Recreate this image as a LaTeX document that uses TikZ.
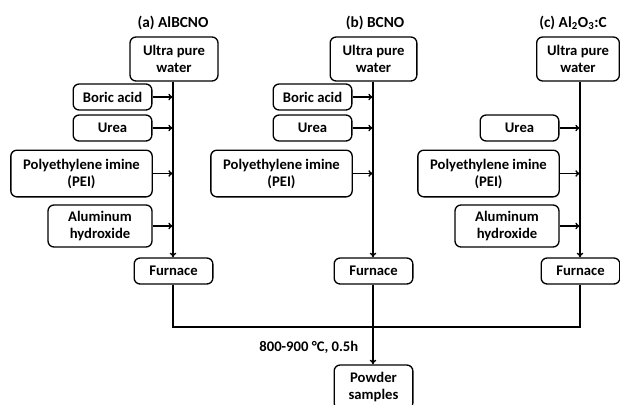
\documentclass[tikz,border=0pt]{standalone}
\usepackage{fontspec}
\setmainfont{Carlito}
\usetikzlibrary{arrows.meta}
\tikzset{
  box/.style={draw, line width=1pt, rounded corners=4.5pt, align=center, inner sep=0pt,
    font=\fontsize{11}{12.75}\selectfont\bfseries},
  title/.style={font=\fontsize{11.5}{13}\selectfont\bfseries},
  flow/.style={line width=1pt, -{To[length=3.5pt,width=5pt]}}
}
\begin{document}
\begin{tikzpicture}[x=0.75pt,y=-0.75pt]
\useasboundingbox (0,0) rectangle (620,404);
% column (a)
\node[title] (titleA) at (173,23) {(a) AlBCNO};
\node[box, minimum width=66pt, minimum height=33pt] (waterA) at (174,59) {Ultra pure\\water};
\node[box, minimum width=59pt, minimum height=19.5pt] (boricA) at (112.5,97) {Boric acid};
\node[box, minimum width=59pt, minimum height=19.5pt] (ureaA) at (112.5,128) {Urea};
\node[box, minimum width=106pt, minimum height=35pt] (peiA) at (81.5,173.5) {Polyethylene imine\\(PEI)};
\node[box, minimum width=78pt, minimum height=31.5pt] (alA) at (100,226) {Aluminum\\hydroxide};
\node[box, minimum width=59pt, minimum height=19.5pt] (furnaceA) at (173.5,271) {Furnace};
% column (b)
\node[title] (titleB) at (375,23) {(b) BCNO};
\node[box, minimum width=65pt, minimum height=33pt] (waterB) at (373.5,59) {Ultra pure\\water};
\node[box, minimum width=59pt, minimum height=19.5pt] (boricB) at (312.5,97) {Boric acid};
\node[box, minimum width=59pt, minimum height=19.5pt] (ureaB) at (312.5,128) {Urea};
\node[box, minimum width=106pt, minimum height=35pt] (peiB) at (281.5,173.5) {Polyethylene imine\\(PEI)};
\node[box, minimum width=59pt, minimum height=19.5pt] (furnaceB) at (373.5,271) {Furnace};
% column (c)
\node[title] (titleC) at (573,23) {(c) Al\textsubscript{2}O\textsubscript{3}:C};
\node[box, minimum width=62pt, minimum height=33pt] (waterC) at (578,59) {Ultra pure\\water};
\node[box, minimum width=59pt, minimum height=19.5pt] (ureaC) at (519.5,128) {Urea};
\node[box, minimum width=106pt, minimum height=35pt] (peiC) at (488.5,173.5) {Polyethylene imine\\(PEI)};
\node[box, minimum width=78pt, minimum height=31.5pt] (alC) at (507,226) {Aluminum\\hydroxide};
\node[box, minimum width=59pt, minimum height=19.5pt] (furnaceC) at (580.5,271) {Furnace};
% product
\node[box, minimum width=59pt, minimum height=33pt] (powder) at (373.5,387) {Powder\\samples};
\node[font=\fontsize{11}{12.75}\selectfont\bfseries, anchor=east] (heat) at (363,347) {800-900 °C, 0.5h};
\coordinate (joinA) at (173,327);
\coordinate (joinB) at (373,327);
\coordinate (joinC) at (580,327);
% main lines
\draw[flow] (waterA.south -| joinA) -- (furnaceA.north -| joinA);
\draw[flow] (waterB.south -| joinB) -- (furnaceB.north -| joinB);
\draw[flow] (waterC.south -| joinC) -- (furnaceC.north -| joinC);
% inputs
\foreach \n/\c in {boricA/joinA, ureaA/joinA, peiA/joinA, alA/joinA,
                   boricB/joinB, ureaB/joinB, peiB/joinB,
                   ureaC/joinC, peiC/joinC, alC/joinC}
  \draw[flow] (\n.east) -- (\n.east -| \c);
% collecting line
\draw[line width=1pt] (furnaceA.south -| joinA) -- (joinA) -- (joinC) -- (furnaceC.south -| joinC);
\draw[flow] (furnaceB.south -| joinB) -- (powder.north -| joinB);
\end{tikzpicture}
\end{document}
